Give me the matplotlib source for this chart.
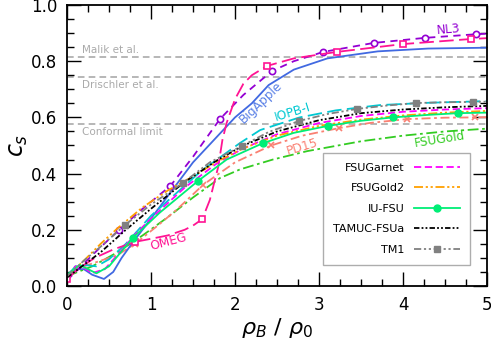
import numpy as np
import matplotlib.pyplot as plt
from matplotlib.ticker import MultipleLocator

# %% data

nl3_x = [0, 0.3, 0.62, 0.9, 1.23, 1.5, 1.82, 2.1, 2.44, 2.7, 3.05, 3.65, 4.26, 4.87, 5.0]
nl3_y = [0.02, 0.11, 0.20, 0.275, 0.356, 0.46, 0.594, 0.68, 0.765, 0.80, 0.833, 0.865, 0.883, 0.896, 0.898]
nl3_mx = [0.62, 1.23, 1.82, 2.44, 3.05, 3.65, 4.26, 4.87]

omeg_x = [0, 0.15, 0.33, 0.55, 0.81, 1.0, 1.2, 1.4, 1.5, 1.61, 1.70, 1.76, 1.80, 1.85, 1.9,
          2.0, 2.1, 2.2, 2.38, 2.7, 3.21, 4.0, 4.81, 5.0]
omeg_y = [0.025, 0.065, 0.10, 0.13, 0.157, 0.168, 0.18, 0.20, 0.215, 0.238, 0.306, 0.377, 0.424,
          0.52, 0.58, 0.665, 0.72, 0.75, 0.783, 0.81, 0.833, 0.861, 0.879, 0.882]
omeg_mx = [0, 0.81, 1.61, 2.38, 3.21, 4.0, 4.81]

bigapple_x = [0, 0.1, 0.2, 0.3, 0.44, 0.55, 0.65, 0.77, 1.0, 1.3, 1.5, 1.75, 2.0, 2.2, 2.4,
              2.7, 3.1, 3.7, 4.3, 5.0]
bigapple_y = [0.03, 0.06, 0.06, 0.04, 0.025, 0.05, 0.10, 0.15, 0.24, 0.36, 0.44, 0.52, 0.60,
              0.65, 0.715, 0.77, 0.81, 0.835, 0.845, 0.848]

iopb_x = [0, 0.1, 0.2, 0.35, 0.5, 0.7, 1.0, 1.3, 1.6, 2.06, 2.3, 2.77, 3.2, 3.73, 4.3, 5.0]
iopb_y = [0.035, 0.07, 0.075, 0.07, 0.095, 0.15, 0.25, 0.33, 0.41, 0.509, 0.555, 0.60, 0.625,
          0.644, 0.652, 0.658]

pd15_x = [0, 0.2, 0.4, 0.6, 0.81, 1.1, 1.3, 1.62, 2.0, 2.43, 2.8, 3.24, 3.6, 4.05, 4.5, 4.86, 5.0]
pd15_y = [0.035, 0.07, 0.09, 0.11, 0.15, 0.22, 0.27, 0.36, 0.44, 0.50, 0.535, 0.562, 0.58,
          0.594, 0.599, 0.60, 0.601]
pd15_mx = [0.81, 1.62, 2.43, 3.24, 4.05, 4.86]

fsugold_x = [0, 0.3, 0.6, 0.9, 1.2, 1.5, 1.82, 2.06, 2.45, 2.86, 3.5, 4.0, 4.5, 5.0]
fsugold_y = [0.035, 0.07, 0.12, 0.18, 0.245, 0.315, 0.384, 0.415, 0.45, 0.48, 0.515, 0.535,
             0.55, 0.56]

garnet_x = [0, 0.1, 0.2, 0.3, 0.45, 0.6, 0.8, 1.0, 1.4, 1.8, 2.1, 2.5, 3.0, 3.5, 4.0, 4.5, 5.0]
garnet_y = [0.035, 0.07, 0.065, 0.046, 0.06, 0.11, 0.18, 0.24, 0.35, 0.44, 0.49, 0.54, 0.58,
            0.605, 0.62, 0.628, 0.633]

gold2_x = [0, 0.2, 0.4, 0.6, 0.9, 1.2, 1.5, 1.8, 2.1, 2.5, 3.0, 3.5, 4.0, 4.5, 5.0]
gold2_y = [0.035, 0.09, 0.15, 0.205, 0.28, 0.34, 0.39, 0.445, 0.49, 0.535, 0.57, 0.592, 0.607,
           0.617, 0.623]

iufsu_x = [0, 0.15, 0.25, 0.35, 0.5, 0.78, 1.1, 1.56, 1.9, 2.33, 2.7, 3.11, 3.5, 3.88, 4.3, 4.65, 5.0]
iufsu_y = [0.04, 0.075, 0.06, 0.045, 0.07, 0.17, 0.26, 0.374, 0.45, 0.508, 0.545, 0.57, 0.588,
           0.60, 0.609, 0.615, 0.617]
iufsu_mx = [0.78, 1.56, 2.33, 3.11, 3.88, 4.65]

tamuc_x = [0, 0.2, 0.4, 0.7, 1.0, 1.4, 1.8, 2.1, 2.5, 3.0, 3.5, 4.0, 4.5, 5.0]
tamuc_y = [0.03, 0.075, 0.12, 0.20, 0.275, 0.37, 0.45, 0.50, 0.55, 0.59, 0.615, 0.628, 0.636, 0.641]

tm1_x = [0, 0.2, 0.4, 0.69, 1.0, 1.38, 1.7, 2.08, 2.4, 2.76, 3.1, 3.45, 3.8, 4.15, 4.5, 4.83, 5.0]
tm1_y = [0.035, 0.09, 0.14, 0.217, 0.29, 0.367, 0.44, 0.498, 0.548, 0.587, 0.612, 0.63, 0.642,
         0.651, 0.654, 0.655, 0.656]
tm1_mx = [0.69, 1.38, 2.08, 2.76, 3.45, 4.15, 4.83]

ref_names = ['Malik et al.', 'Drischler et al.', 'Conformal limit']
ref_values = [0.815, 0.744, 0.577]


def marks(x, mx):
    return [list(np.round(x, 3)).index(round(m, 3)) for m in mx]


# %%

fig = plt.figure(figsize=(4.91, 3.47), dpi=100)
ax = fig.add_axes([0.1365, 0.1758, 0.8554, 0.8098])

lw = 1.3
for val in ref_values:
    ax.axhline(val, color='#aaaaaa', ls=(0, (4, 2.5)), lw=1.2, zorder=1)
ax.text(0.18, ref_values[0] + 0.008, ref_names[0], color='#aaaaaa', fontsize=7.5, va='bottom')
ax.text(0.18, ref_values[1] - 0.012, ref_names[1], color='#aaaaaa', fontsize=7.5, va='top')
ax.text(0.18, ref_values[2] - 0.012, ref_names[2], color='#aaaaaa', fontsize=7.5, va='top')

ax.plot(fsugold_x, fsugold_y, color='#33cc22', ls=(0, (6, 2, 1.5, 2)), lw=lw)
ax.plot(pd15_x, pd15_y, color='#fa8072', ls=(0, (5, 2, 1.5, 2)), lw=lw,
        marker='x', ms=5, mew=1.2, markevery=marks(pd15_x, pd15_mx))
ax.plot(bigapple_x, bigapple_y, color='#4169e1', ls='-', lw=lw)
ax.plot(iopb_x, iopb_y, color='#00c8d2', ls=(0, (8, 3)), lw=lw)
ax.plot(nl3_x, nl3_y, color='#9400d3', ls=(0, (4, 3)), lw=lw,
        marker='o', ms=4.5, mfc='white', mew=1.2, markevery=marks(nl3_x, nl3_mx))
ax.plot(omeg_x, omeg_y, color='#ff1493', ls=(0, (8, 3)), lw=lw,
        marker='s', ms=4.5, mfc='white', mew=1.2, markevery=marks(omeg_x, omeg_mx))

ax.plot(garnet_x, garnet_y, color='#ff00ff', ls=(0, (4, 2)), lw=lw, label='FSUGarnet')
ax.plot(gold2_x, gold2_y, color='#ffa000', ls=(0, (5, 1.5, 1.2, 1.5, 1.2, 1.5)), lw=lw,
        label='FSUGold2')
ax.plot(iufsu_x, iufsu_y, color='#00ee76', ls='-', lw=lw, label='IU-FSU',
        marker='o', ms=5, markevery=marks(iufsu_x, iufsu_mx))
ax.plot(tamuc_x, tamuc_y, color='black', ls=(0, (3, 1.2, 1, 1.2, 1, 1.2)), lw=lw,
        label='TAMUC-FSUa')
ax.plot(tm1_x, tm1_y, color='#808080', ls=(0, (4, 1.5, 1.2, 1.5, 1.2, 1.5)), lw=lw, label='TM1',
        marker='s', ms=5, markevery=marks(tm1_x, tm1_mx))

# curve labels
fs = 8.8
ax.text(4.54, 0.912, 'NL3', color='#9400d3', fontsize=fs, rotation=5, ha='center', va='center')
ax.text(2.31, 0.655, 'BigApple', color='#5a80e6', fontsize=fs, rotation=44, ha='center', va='center')
ax.text(2.68, 0.618, 'IOPB-I', color='#00c8d2', fontsize=fs, rotation=17, ha='center', va='center')
ax.text(2.8, 0.496, 'PD15', color='#fa8072', fontsize=fs, rotation=17, ha='center', va='center')
ax.text(4.43, 0.522, 'FSUGold', color='#33cc22', fontsize=fs, rotation=9, ha='center', va='center')
ax.text(1.21, 0.157, 'OMEG', color='#ff1493', fontsize=fs, rotation=15, ha='center', va='center')

ax.set_xlim(0, 5)
ax.set_ylim(0, 1)
ax.xaxis.set_major_locator(MultipleLocator(1))
ax.xaxis.set_minor_locator(MultipleLocator(0.25))
ax.yaxis.set_major_locator(MultipleLocator(0.2))
ax.yaxis.set_minor_locator(MultipleLocator(0.05))
ax.tick_params(which='both', direction='in', top=True, right=True, labelsize=12, pad=7)
ax.tick_params(which='major', length=10, width=1)
ax.tick_params(which='minor', length=5, width=1)
for s in ax.spines.values():
    s.set_linewidth(1.3)

ax.set_xlabel(r'$\rho_B$ / $\rho_0$', fontsize=16, labelpad=2)
ax.set_ylabel(r'$c_s$', fontsize=17, labelpad=1)

leg = ax.legend(loc='lower right', bbox_to_anchor=(0.96, 0.075), borderaxespad=0,
                markerfirst=False, fontsize=8, fancybox=False, edgecolor='#999999',
                handlelength=4.2, handletextpad=0.8, labelspacing=0.95, borderpad=0.9)
leg.get_frame().set_linewidth(1.0)

fig.savefig('out.png', dpi=100)
